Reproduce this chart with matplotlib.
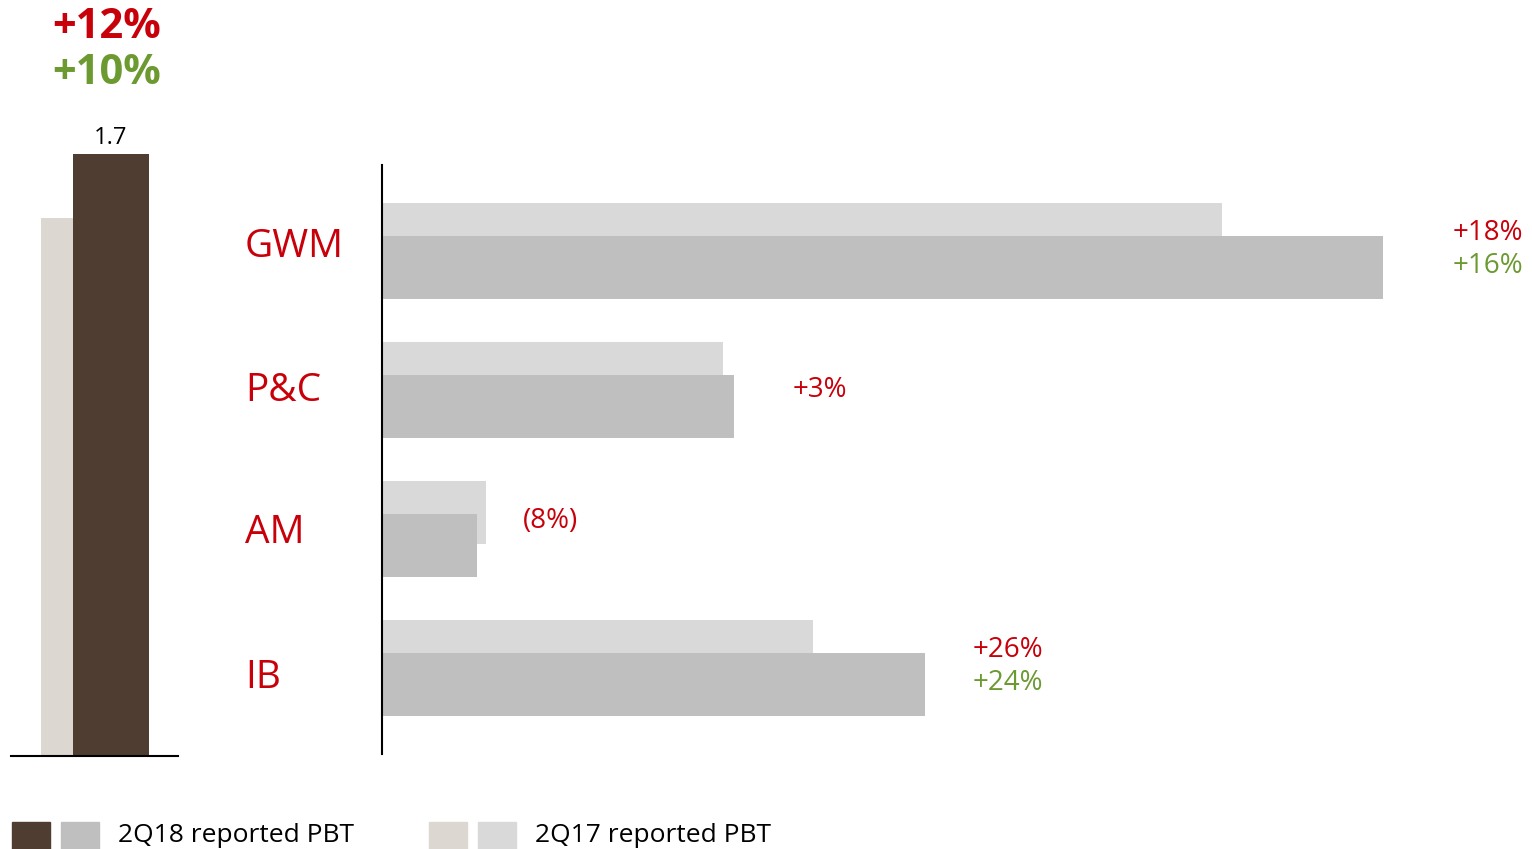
import matplotlib
matplotlib.use("Agg")
import matplotlib.pyplot as plt
import matplotlib.transforms as mtransforms
from matplotlib.patches import Rectangle

plt.rcParams['font.family'] = ['Open Sans', 'DejaVu Sans']

# Group PBT (bn)
group_2q18 = 1.7
group_2q17 = 1.52
group_change = ["+12%", "+10%"]

# Business division PBT (m)
divisions = ["GWM", "P&C", "AM", "IB"]
pbt_2q18 = [1069, 376, 101, 580]
pbt_2q17 = [897, 364, 111, 460]
change_reported = ["+18%", "+3%", "(8%)", "+26%"]
change_adjusted = ["+16%", None, None, "+24%"]
label_x = [1144, 439, 151, 631]
name_dy = [-0.032, 0.005, 0.03, 0.075]

legend_labels = ["2Q18 reported PBT", "2Q17 reported PBT"]

RED = "#C8000A"
GREEN = "#6C9A31"
BROWN = "#4F3D31"
BEIGE = "#DCD7D1"
GRAY = "#BFBFBF"
LIGHTGRAY = "#D9D9D9"

W, H = 1532, 849
fig = plt.figure(figsize=(W / 100, H / 100), dpi=100)


def px_axes(left, top, right, bottom):
    return fig.add_axes([left / W, 1 - bottom / H, (right - left) / W, (bottom - top) / H])


# ---- Group total ----
axg = px_axes(11, 100, 178, 756)
axg.set_xlim(0, 2.197)
axg.set_ylim(0, group_2q18 * 656 / 602)
axg.bar(0.395, group_2q17, width=1.0, align="edge", color=BEIGE, zorder=1)
axg.bar(0.816, group_2q18, width=1.0, align="edge", color=BROWN, zorder=2)
axg.text(1.316, group_2q18 + 0.01, f"{group_2q18:.1f}", ha="center", va="bottom",
         fontsize=17, color="black")
for s in ["top", "right", "left"]:
    axg.spines[s].set_visible(False)
axg.spines["bottom"].set_linewidth(1.5)
axg.set_xticks([])
axg.set_yticks([])

fig.text(107 / W, 1 - 28 / H, group_change[0], ha="center", va="center",
         fontsize=30, fontweight="bold", color=RED)
fig.text(107 / W, 1 - 73 / H, group_change[1], ha="center", va="center",
         fontsize=30, fontweight="bold", color=GREEN)

# ---- Divisions ----
ax = px_axes(382, 165, 1532, 754)
ax.set_xlim(0, 1150 / 0.936)
ax.set_ylim(3.62, -0.62)
ypos = list(range(len(divisions)))
bh = 0.45
ax.barh([y - 0.118 for y in ypos], pbt_2q17, height=bh, color=LIGHTGRAY, zorder=1)
ax.barh([y + 0.118 for y in ypos], pbt_2q18, height=bh, color=GRAY, zorder=2)

for s in ["top", "right", "bottom"]:
    ax.spines[s].set_visible(False)
ax.spines["left"].set_linewidth(1.5)
ax.set_xticks([])
ax.set_yticks([])

name_tr = mtransforms.blended_transform_factory(fig.transFigure, ax.transData)
for y, dy, name in zip(ypos, name_dy, divisions):
    ax.text(245 / W, y + dy, name, transform=name_tr, ha="left", va="center",
            fontsize=28, color=RED)

for y, lx, r, a in zip(ypos, label_x, change_reported, change_adjusted):
    if a is None:
        dy = 0.0 if r.startswith("+") else -0.06
        ax.text(lx, y + dy, r, ha="left", va="center", fontsize=20, color=RED)
    else:
        ax.text(lx, y - 0.13, r, ha="left", va="center", fontsize=20, color=RED)
        ax.text(lx, y + 0.11, a, ha="left", va="center", fontsize=20, color=GREEN)

# ---- Legend ----
for x0, c in [(12, BROWN), (61, GRAY), (429, BEIGE), (478, LIGHTGRAY)]:
    fig.patches.append(Rectangle((x0 / W, 0), 38 / W, 27 / H, transform=fig.transFigure,
                                 color=c, zorder=3))
fig.text(118 / W, 13 / H, legend_labels[0], ha="left", va="center", fontsize=19, color="black")
fig.text(535 / W, 13 / H, legend_labels[1], ha="left", va="center", fontsize=19, color="black")

fig.savefig("out.png", dpi=100)
